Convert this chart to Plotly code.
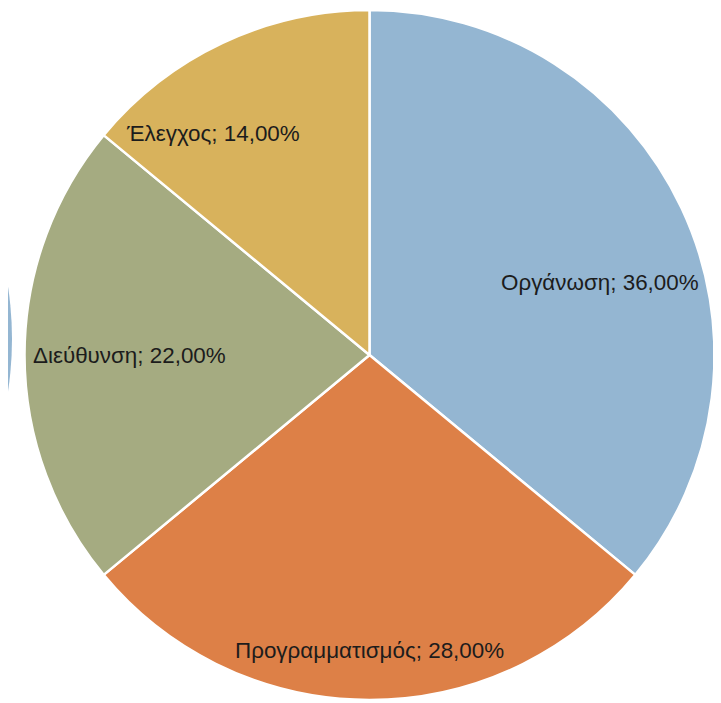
import math
import plotly.graph_objects as go

labels = ["Οργάνωση", "Προγραμματισμός", "Διεύθυνση", "Έλεγχος"]
values = [36, 28, 22, 14]
colors = ["#94B6D2", "#DD8047", "#A5AB81", "#D8B25C"]

W, H = 721, 703
FONT_SIZE = 22.4
dom_x = [16.5 / W, 706.5 / W]
dom_y = [1 - 692 / H, 1 - 2 / H]

texts = [f"{l}; {v:.2f}%".replace(".", ",") for l, v in zip(labels, values)]


def text_width(s, size):
    """Rough width of a string in Liberation Sans, in px."""
    em = 0.0
    for ch in s:
        if ch in ";, ":
            em += 0.278
        elif ch == "%":
            em += 0.889
        elif ch.isdigit():
            em += 0.556
        elif ch in "ιί":
            em += 0.222
        elif ch in "ωώμ":
            em += 0.76
        elif ch.isupper():
            em += 0.70
        else:
            em += 0.55
    return em * size


fig = go.Figure()
fig.add_trace(go.Pie(
    labels=labels,
    values=values,
    text=texts,
    textinfo="none",
    hovertemplate="%{text}<extra></extra>",
    sort=False,
    direction="clockwise",
    rotation=0,
    marker=dict(colors=colors, line=dict(color="white", width=2.5)),
    domain=dict(x=dom_x, y=dom_y),
    showlegend=False,
))

# data labels placed near the rim ("inside end"): the outer corner of each label
# box sits just inside the circle, along a direction leaning towards horizontal
R = min((dom_x[1] - dom_x[0]) * W, (dom_y[1] - dom_y[0]) * H) / 2
cx = (dom_x[0] + dom_x[1]) / 2
cy = (dom_y[0] + dom_y[1]) / 2
inset = 7
lean = 1.5
total = sum(values)
cum = 0
for t, v in zip(texts, values):
    mid = (cum + v / 2) / total * 2 * math.pi
    cum += v
    ang = math.atan2(lean * math.sin(mid), math.cos(mid))
    ux, uy = math.sin(ang), math.cos(ang)
    bw, bh = text_width(t, FONT_SIZE), FONT_SIZE
    kx = math.copysign(bw / 2, ux) if abs(ux) > 1e-6 else bw / 2
    ky = math.copysign(bh / 2, uy) if abs(uy) > 1e-6 else bh / 2
    uk = ux * kx + uy * ky
    kk = kx * kx + ky * ky
    c = -uk + math.sqrt(uk * uk - kk + (R - inset) ** 2)
    fig.add_annotation(
        x=cx + c * ux / W, y=cy + c * uy / H, xref="paper", yref="paper",
        text=t, showarrow=False, xanchor="center", yanchor="middle",
        font=dict(family="Liberation Sans, Arial, sans-serif", size=FONT_SIZE, color="#1c1c1c"),
    )

# fragment of a neighbouring chart at the left edge
fig.add_shape(type="circle", xref="paper", yref="paper",
              x0=(-341 - 345) / W, x1=(-341 + 345) / W,
              y0=1 - (331 + 345) / H, y1=1 - (331 - 345) / H,
              fillcolor="#94B6D2", line=dict(width=0), layer="below")

fig.update_layout(
    width=W, height=H,
    margin=dict(l=0, r=0, t=0, b=0),
    paper_bgcolor="white",
    plot_bgcolor="white",
    showlegend=False,
)
fig.write_html("out.html")
